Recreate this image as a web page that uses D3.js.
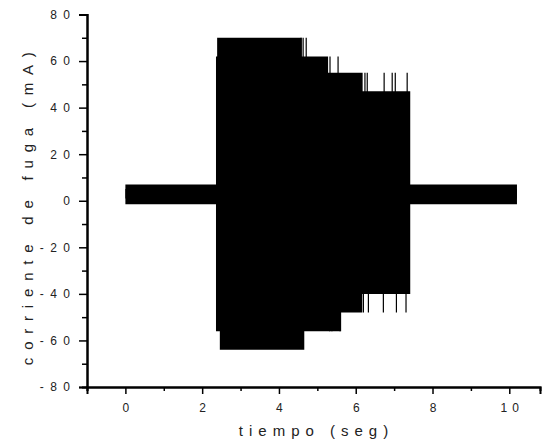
<!DOCTYPE html>
<html>
<head>
<meta charset="utf-8">
<script src="https://cdn.jsdelivr.net/npm/d3@7"></script>
<style>
  body { margin: 0; background: #fff; }
  svg { display: block; }
  .tick text { font-family: "Liberation Sans", Arial, sans-serif; }
</style>
</head>
<body>
<svg width="543" height="448"></svg>
<script>
// step envelopes of the leakage current signal (value holds from t[i] to t[i+1])
var upT = [0, 2.36, 2.39, 4.59, 5.28, 6.18, 7.42, 10.2];
var upV = [7, 62, 70, 62, 55, 47, 7];
var loT = [0, 2.36, 2.46, 4.66, 5.62, 6.17, 7.42, 10.2];
var loV = [-1.5, -56, -64, -56, -48, -40, -1.5];

// isolated peaks sticking out of the envelope
var spikeUpT = [4.58, 4.63, 4.71, 5.33, 5.54, 6.24, 6.30, 6.74, 6.95, 7.03, 7.34];
var spikeUpV = [70, 70, 70, 62, 62, 55, 55, 55, 55, 55, 55];
var spikeLoT = [5.32, 5.38, 5.59, 6.20, 6.33, 6.72, 7.06, 7.31];
var spikeLoV = [-56, -56, -56, -48, -48, -48, -48, -48];

var xTicks = [0, 2, 4, 6, 8, 10];
var xMinor = [-1, 1, 3, 5, 7, 9];
var yTicks = [-80, -60, -40, -20, 0, 20, 40, 60, 80];
var yMinor = [-70, -50, -30, -10, 10, 30, 50, 70];

var svg = d3.select("svg"),
    margin = {
        top: 14.5,
        right: 3,
        bottom: 61,
        left: 87
    },
    width = +svg.attr("width") - margin.left - margin.right,
    height = +svg.attr("height") - margin.top - margin.bottom;

var x = d3.scaleLinear().domain([-1, 10.8]).range([0, width]);
var y = d3.scaleLinear().domain([-80, 80]).range([height, 0]);

var g = svg.append("g")
    .attr("transform", "translate(" + margin.left + "," + margin.top + ")");

function steps(t, v) {
    var pts = v.map(function (d, i) { return { t: t[i], v: d }; });
    pts.push({ t: t[t.length - 1], v: v[v.length - 1] });
    return pts;
}

// the two halves overlap around the signal's centre so no seam shows
var center = 3;
function area(base) {
    return d3.area()
        .curve(d3.curveStepAfter)
        .x(function (d) { return x(d.t); })
        .y0(y(base))
        .y1(function (d) { return y(d.v); });
}

g.append("path").datum(steps(upT, upV)).attr("d", area(center - 2)).attr("fill", "#000");
g.append("path").datum(steps(loT, loV)).attr("d", area(center + 2)).attr("fill", "#000");

g.selectAll(".spikeUp")
    .data(spikeUpT)
    .enter().append("line")
    .attr("x1", function (d) { return x(d); })
    .attr("x2", function (d) { return x(d); })
    .attr("y1", y(center))
    .attr("y2", function (d, i) { return y(spikeUpV[i]); })
    .attr("stroke", "#000")
    .attr("stroke-width", 1.2);

g.selectAll(".spikeLo")
    .data(spikeLoT)
    .enter().append("line")
    .attr("x1", function (d) { return x(d); })
    .attr("x2", function (d) { return x(d); })
    .attr("y1", y(center))
    .attr("y2", function (d, i) { return y(spikeLoV[i]); })
    .attr("stroke", "#000")
    .attr("stroke-width", 1.2);

// axes
var fmt = function (d) { return String(d); };
var xAxis = g.append("g")
    .attr("transform", "translate(0," + height + ")")
    .call(d3.axisBottom(x).tickValues(xTicks).tickSize(7).tickPadding(9).tickFormat(fmt));
g.append("g")
    .attr("transform", "translate(0," + height + ")")
    .call(d3.axisBottom(x).tickValues(xMinor).tickSize(4).tickFormat(""));

var yAxis = g.append("g")
    .call(d3.axisLeft(y).tickValues(yTicks).tickSize(8).tickPadding(2.5).tickFormat(fmt));
g.append("g")
    .call(d3.axisLeft(y).tickValues(yMinor).tickSize(5).tickFormat(""));

g.selectAll(".domain").attr("stroke", "#000").attr("stroke-width", 2);
g.selectAll(".tick line").attr("stroke", "#000").attr("stroke-width", 1.5);
g.selectAll(".tick text")
    .attr("font-size", 12)
    .attr("fill", "#222");
xAxis.selectAll(".tick text").style("letter-spacing", "5px").attr("dx", "2.5px");
yAxis.selectAll(".tick text").style("letter-spacing", "6.5px");

svg.append("text")
    .attr("x", margin.left + width / 2 + 3)
    .attr("y", 436)
    .attr("text-anchor", "middle")
    .attr("font-family", "Liberation Sans, Arial, sans-serif")
    .attr("font-size", 15)
    .attr("fill", "#222")
    .style("letter-spacing", "6px")
    .text("tiempo (seg)");

svg.append("text")
    .attr("transform", "translate(33," + (margin.top + height / 2 + 4) + ") rotate(-90)")
    .attr("text-anchor", "middle")
    .attr("font-family", "Liberation Sans, Arial, sans-serif")
    .attr("font-size", 15)
    .attr("fill", "#222")
    .style("letter-spacing", "7.8px")
    .text("corriente de fuga (mA)");
</script>
</body>
</html>
